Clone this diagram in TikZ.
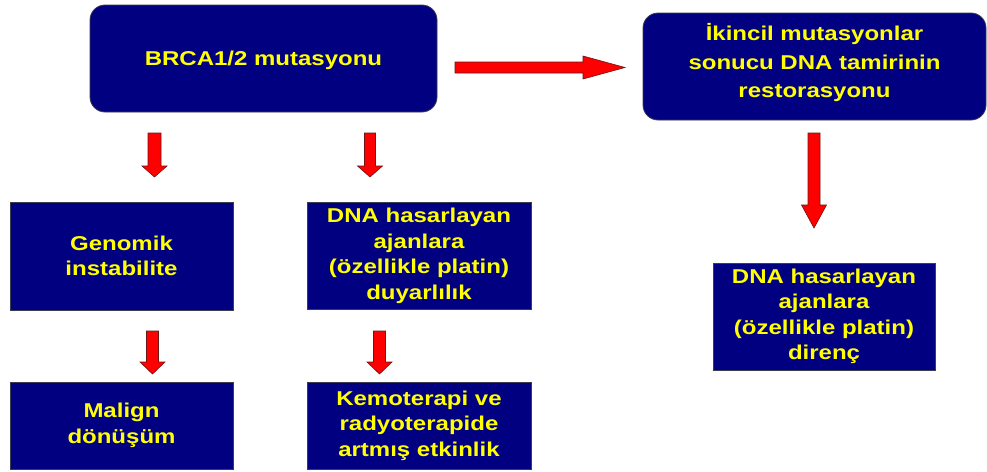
\documentclass[tikz,border=0pt]{standalone}
\usepackage{fontspec}
\newfontfamily\boxfont{Liberation Sans}[FakeStretch=1.2]
\definecolor{boxnavy}{RGB}{0,0,128}
\definecolor{boxline}{RGB}{60,60,80}
\definecolor{txtyellow}{RGB}{255,255,0}
\definecolor{arrred}{RGB}{255,0,0}
\definecolor{arrline}{RGB}{110,20,20}
\tikzset{
  bx/.style={draw=boxline, line width=0.8pt, fill=boxnavy, text=txtyellow,
    inner sep=0pt, align=center,
    font=\boxfont\bfseries\fontsize{20}{25.5}\selectfont},
  rbx/.style={bx, rounded corners=15pt},
  blockarr/.style={fill=arrred, draw=arrline, line width=0.6pt, line join=miter}
}
% vertical down block arrow: x centre, top y, head start y, tip y, shaft half, head half
\newcommand\downarr[6]{%
  \draw[blockarr] (#1-#5,#2) -- (#1+#5,#2) -- (#1+#5,#3) -- (#1+#6,#3)
    -- (#1,#4) -- (#1-#6,#3) -- (#1-#5,#3) -- cycle;}
\begin{document}
\begin{tikzpicture}[x=1pt,y=-1pt]
\useasboundingbox[fill=white] (0,0) rectangle (987,471);

\node[rbx, minimum width=347pt, minimum height=107pt, text depth=0pt] (brca) at (263.5,58.5) {BRCA1/2 mutasyonu};
\node[rbx, minimum width=343pt, minimum height=107pt, text depth=12pt, font=\boxfont\bfseries\fontsize{20}{28.5}\selectfont] (ikin) at (814.5,66.5) {İkincil mutasyonlar\\sonucu DNA tamirinin\\restorasyonu};

\node[bx, minimum width=223pt, minimum height=108pt] (gen) at (121.5,256) {Genomik\\instabilite};
\node[bx, minimum width=224pt, minimum height=107pt] (duy) at (419,256) {DNA hasarlayan\\ajanlara\\(özellikle platin)\\duyarlılık};
\node[bx, minimum width=223pt, minimum height=87pt] (mal) at (121.5,425.5) {Malign\\dönüşüm};
\node[bx, minimum width=224pt, minimum height=87pt] (kem) at (419,425.5) {Kemoterapi ve\\radyoterapide\\artmış etkinlik};
\node[bx, minimum width=222pt, minimum height=107pt] (dir) at (824,316.5) {DNA hasarlayan\\ajanlara\\(özellikle platin)\\direnç};

% block arrows
\downarr{154.5}{133}{166}{177}{6.5}{12.5}
\downarr{370}{133}{166}{177}{5.5}{12.5}
\downarr{152.5}{331}{362}{374}{6}{12.5}
\downarr{379.5}{331}{362}{374}{6}{12.5}
\downarr{814}{133}{205}{228}{6}{12.5}
\draw[blockarr] (455,62) -- (583,62) -- (583,56) -- (625,67.5) -- (583,79) -- (583,73) -- (455,73) -- cycle;
\end{tikzpicture}
\end{document}
